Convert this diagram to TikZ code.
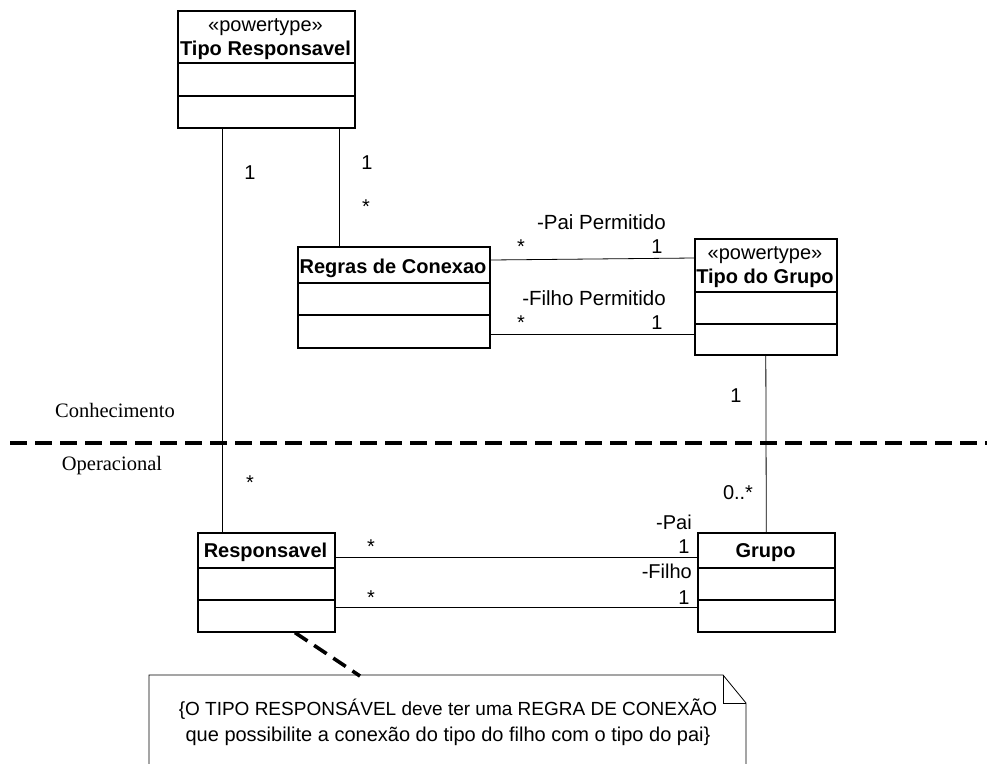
\documentclass[tikz,border=0pt]{standalone}
\usepackage{fontspec}
\setmainfont{Liberation Sans}
\newfontfamily\serifface{Liberation Serif}
\begin{document}
\begin{tikzpicture}[x=1pt,y=1pt,
  classbox/.style={draw, line width=1.6pt, inner sep=0pt, anchor=north west},
  divider/.style={line width=1.6pt},
  assoc/.style={line width=0.8pt},
  lbl/.style={anchor=base, inner sep=0pt, font=\fontsize{20}{24}\selectfont},
  title/.style={lbl, font=\fontsize{20}{24}\selectfont\bfseries},
  region/.style={lbl, font=\fontsize{20.5}{24}\selectfont\serifface},
  sepline/.style={line width=3.6pt, dash pattern=on 17pt off 8pt},
  notelink/.style={line width=3.6pt, dash pattern=on 15pt off 8pt},
  noteline/.style={line width=0.8pt}
]
\useasboundingbox (0,0) rectangle (987,-763);

% class boxes
\node[classbox, minimum width=177pt, minimum height=117pt] (tr) at (177,-10) {};
\node[classbox, minimum width=192pt, minimum height=101pt] (rc) at (297,-246) {};
\node[classbox, minimum width=142pt, minimum height=116pt] (tg) at (694,-238) {};
\node[classbox, minimum width=137pt, minimum height=99pt] (re) at (197,-532) {};
\node[classbox, minimum width=137pt, minimum height=99pt] (gr) at (697,-532) {};

% compartments
\draw[divider] ([yshift=-53pt]tr.north west) -- ([yshift=-53pt]tr.north east);
\draw[divider] ([yshift=-86pt]tr.north west) -- ([yshift=-86pt]tr.north east);
\draw[divider] ([yshift=-37pt]rc.north west) -- ([yshift=-37pt]rc.north east);
\draw[divider] ([yshift=-69pt]rc.north west) -- ([yshift=-69pt]rc.north east);
\draw[divider] ([yshift=-54pt]tg.north west) -- ([yshift=-54pt]tg.north east);
\draw[divider] ([yshift=-86pt]tg.north west) -- ([yshift=-86pt]tg.north east);
\draw[divider] ([yshift=-36pt]re.north west) -- ([yshift=-36pt]re.north east);
\draw[divider] ([yshift=-68pt]re.north west) -- ([yshift=-68pt]re.north east);
\draw[divider] ([yshift=-36pt]gr.north west) -- ([yshift=-36pt]gr.north east);
\draw[divider] ([yshift=-68pt]gr.north west) -- ([yshift=-68pt]gr.north east);

% class names
\node[lbl] (trst) at (265.5,-31) {«powertype»};
\node[title] (trnm) at (265.5,-55) {Tipo Responsavel};
\node[title] (rcnm) at (393,-273) {Regras de Conexao};
\node[lbl] (tgst) at (765,-259) {«powertype»};
\node[title] (tgnm) at (765,-283) {Tipo do Grupo};
\node[title] (renm) at (265.5,-557) {Responsavel};
\node[title] (grnm) at (765.5,-557) {Grupo};

% associations
\draw[assoc] ([xshift=45pt]tr.south west) -- ([xshift=25pt]re.north west);
\draw[assoc] ([xshift=162pt]tr.south west) -- ([xshift=42pt]rc.north west);
\draw[assoc] ([yshift=-14pt]rc.north east) -- ([yshift=-20pt]tg.north west);
\draw[assoc] ([yshift=-88pt]rc.north east) -- ([yshift=-96pt]tg.north west);
\draw[assoc] (tg.south) -- (gr.north);
\draw[assoc] ([yshift=-25pt]re.north east) -- ([yshift=-25pt]gr.north west);
\draw[assoc] ([yshift=-75pt]re.north east) -- ([yshift=-75pt]gr.north west);

% multiplicities and role names
\node[lbl] (m1) at (250,-179) {1};
\node[lbl] (m2) at (367,-169) {1};
\node[lbl] (m3) at (366,-213) {*};
\node[lbl, anchor=base east, font=\fontsize{20.5}{24}\selectfont] (r1) at (666,-229) {-Pai Permitido};
\node[lbl] (m4) at (521,-253) {*};
\node[lbl] (m5) at (657,-253) {1};
\node[lbl, anchor=base east, font=\fontsize{20.5}{24}\selectfont] (r2) at (666,-305) {-Filho Permitido};
\node[lbl] (m6) at (521,-329) {*};
\node[lbl] (m7) at (657,-329) {1};
\node[lbl] (m8) at (736,-402) {1};
\node[lbl] (m9) at (738,-499) {0..*};
\node[lbl] (m10) at (250,-489) {*};
\node[lbl, anchor=base east] (r3) at (692,-529) {-Pai};
\node[lbl] (m11) at (371,-553) {*};
\node[lbl] (m12) at (684,-553) {1};
\node[lbl, anchor=base east] (r4) at (692,-578) {-Filho};
\node[lbl] (m13) at (371,-604) {*};
\node[lbl] (m14) at (684,-604) {1};

% layer separator
\coordinate (sepL) at (10,-443);
\coordinate (sepR) at (987,-443);
\draw[sepline] (sepL) -- (sepR);
\node[region] (know) at (115,-417) {Conhecimento};
\node[region] (oper) at (112,-470) {Operacional};

% note
\coordinate (nA) at (149,-775);
\coordinate (nB) at (149,-675);
\coordinate (nC) at (723,-675);
\coordinate (nD) at (746,-703);
\coordinate (nE) at (746,-775);
\coordinate (nF) at (723,-703);
\draw[noteline] (nA) -- (nB) -- (nC) -- (nD) -- (nE);
\draw[noteline] (nC) -- (nF) -- (nD);
\node[lbl, align=center, font=\fontsize{20}{26}\selectfont] (notetext) at (448,-741)
  {{\fontsize{19}{26}\selectfont\{O TIPO RESPONSÁVEL deve ter uma REGRA DE CONEXÃO}\\que possibilite a conexão do tipo do filho com o tipo do pai\}};
\coordinate (notetop) at (360,-676);
\draw[notelink] ([xshift=98pt]re.south west) -- (notetop);
\end{tikzpicture}
\end{document}
